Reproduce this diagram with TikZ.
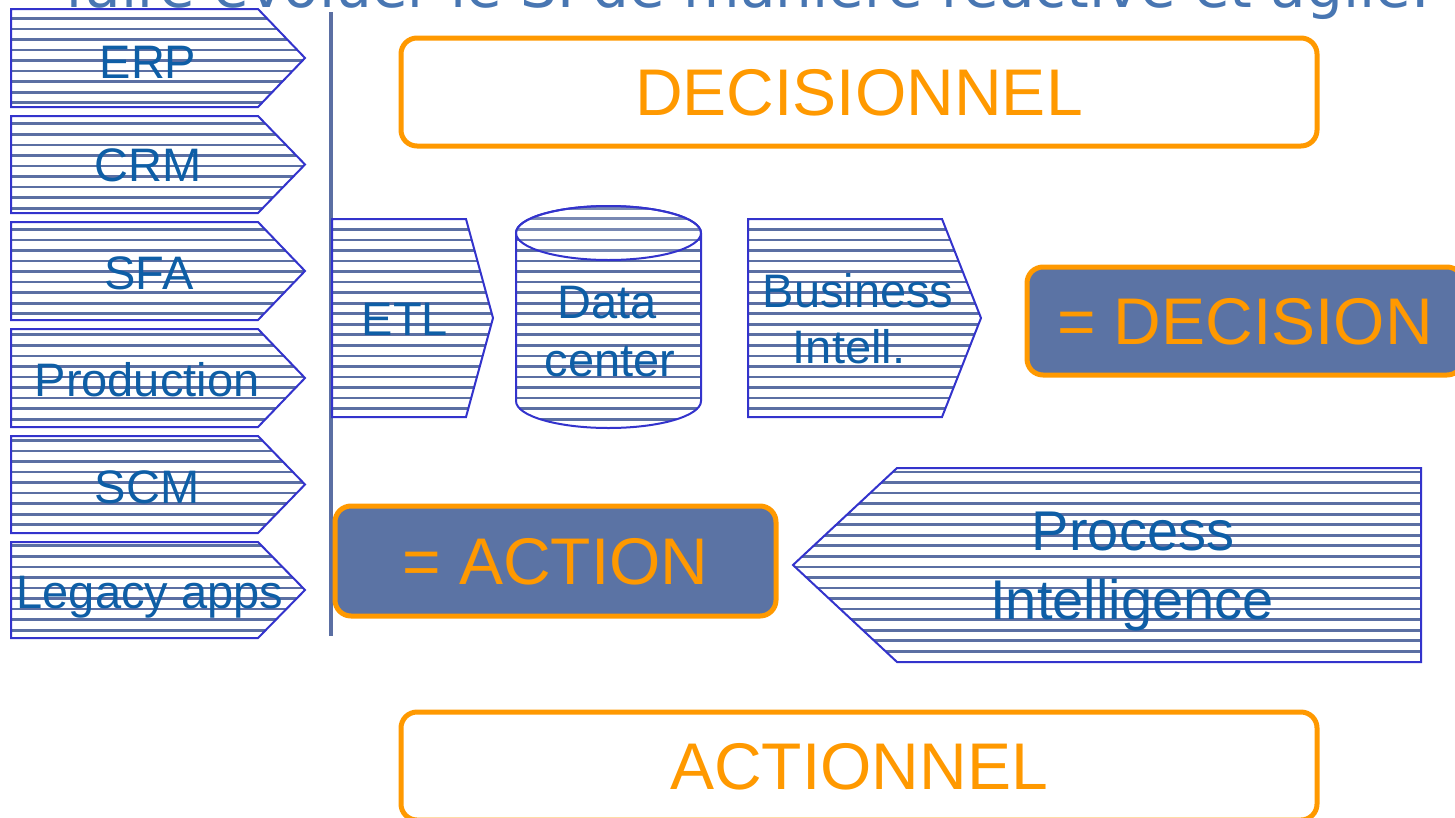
\documentclass[tikz,border=0pt]{standalone}
\usepackage{fontspec}
\setmainfont{Liberation Sans}
\newfontfamily\titlefont{DejaVu Sans}
\definecolor{orangeC}{RGB}{255,153,0}
\definecolor{slateC}{RGB}{91,115,164}
\definecolor{hatchC}{RGB}{91,111,163}
\definecolor{edgeC}{RGB}{51,51,204}
\definecolor{labelC}{RGB}{14,94,166}
\definecolor{titleC}{RGB}{72,118,178}
\newcommand\hatchshape[1]{%
  \begin{scope}
    \clip #1;
    \foreach \k in {0,...,78}{\draw[hatchline] (0,{7.75+10.55*\k}) -- (1455,{7.75+10.55*\k});}
  \end{scope}
  \draw[shapeline] #1;}
\tikzset{
  hatchline/.style={draw=hatchC, line width=2.7pt},
  shapeline/.style={draw=edgeC, line width=2pt, line join=miter},
  vline/.style={draw=hatchC, line width=4pt},
  lbl/.style={text=labelC, font=\fontsize{47}{56}\selectfont, inner sep=0pt, anchor=base},
  pilbl/.style={lbl, font=\fontsize{56}{64}\selectfont},
  obox/.style={draw=orangeC, line width=5pt, rounded corners=16pt, fill=white,
    text=orangeC, font=\fontsize{66}{76}\selectfont, inner sep=0pt, text depth=0pt},
  fbox/.style={obox, fill=slateC},
  title/.style={text=titleC, font=\titlefont\fontsize{58}{66}\selectfont, inner sep=0pt, anchor=base west}
}
\begin{document}
\begin{tikzpicture}[x=1pt,y=-1pt]
\useasboundingbox (0,0) rectangle (1455,817);
\clip (0,0) rectangle (1455,817);

% cut-off title
\node[title] (title) at (65,7) {faire évoluer le SI de manière réactive et agile.};

% left column of source systems
\hatchshape{(11,9) -- (258,9) -- (305,58) -- (258,107) -- (11,107) -- cycle}
\hatchshape{(11,116) -- (258,116) -- (305,164.5) -- (258,213) -- (11,213) -- cycle}
\hatchshape{(11,222) -- (258,222) -- (305,271) -- (258,320) -- (11,320) -- cycle}
\hatchshape{(11,329) -- (258,329) -- (305,378) -- (258,427) -- (11,427) -- cycle}
\hatchshape{(11,436) -- (258,436) -- (305,484.5) -- (258,533) -- (11,533) -- cycle}
\hatchshape{(11,542) -- (258,542) -- (305,590) -- (258,638) -- (11,638) -- cycle}
\node[lbl] (erp) at (148,78) {ERP};
\node[lbl] (crm) at (148,181.5) {CRM};
\node[lbl] (sfa) at (149,289.5) {SFA};
\node[lbl] (prod) at (147,396) {Production};
\node[lbl] (scm) at (147,503.5) {SCM};
\node[lbl] (legacy) at (150,608) {Legacy apps};

% vertical separator
\draw[vline] (331,12) -- (331,636);

% ETL
\hatchshape{(332,219) -- (466,219) -- (493,318) -- (466,417) -- (332,417) -- cycle}
\node[lbl] (etl) at (405,335) {ETL};

% Data center cylinder
\hatchshape{(516,233) -- (516,401) .. controls (516,415.9) and (557.4,428) .. (608.5,428) .. controls (659.6,428) and (701,415.9) .. (701,401) -- (701,233) .. controls (701,218.1) and (659.6,206) .. (608.5,206) .. controls (557.4,206) and (516,218.1) .. (516,233) -- cycle}
\fill[white, opacity=0.18] (608.5,233) ellipse [x radius=92.5, y radius=27];
\draw[shapeline] (608.5,233) ellipse [x radius=92.5, y radius=27];
\node[lbl] (data1) at (607,318) {Data};
\node[lbl] (data2) at (610,376) {center};

% Business Intelligence
\hatchshape{(748,219) -- (942,219) -- (981,318) -- (942,417) -- (748,417) -- cycle}
\node[lbl] (bi1) at (858,307.5) {Business};
\node[lbl] (bi2) at (849,363) {Intell.};

% Process Intelligence
\hatchshape{(793,565) -- (897,468) -- (1421,468) -- (1421,662) -- (897,662) -- cycle}
\node[pilbl] (pi1) at (1133,550) {Process};
\node[pilbl] (pi2) at (1132,619) {Intelligence};

% orange boxes
\node[obox, minimum width=916pt, minimum height=108pt] (decisionnel) at (859,92) {DECISIONNEL};
\node[fbox, minimum width=436pt, minimum height=108pt] (decision) at (1245,321) {= DECISION};
\node[fbox, minimum width=441pt, minimum height=110pt] (action) at (555.5,561) {= ACTION};
\node[obox, minimum width=916pt, minimum height=108pt] (actionnel) at (859,766) {ACTIONNEL};
\end{tikzpicture}
\end{document}
